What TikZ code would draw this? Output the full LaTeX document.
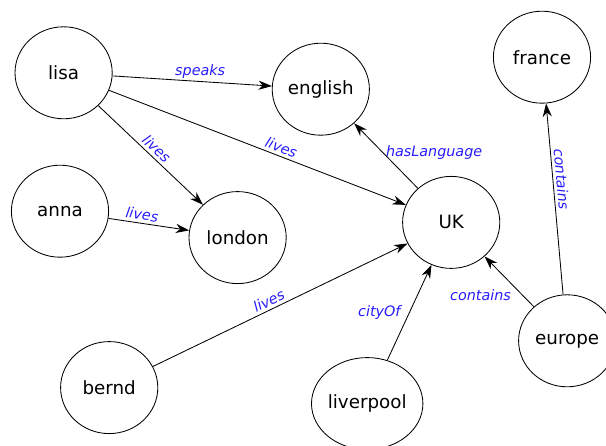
\documentclass[tikz,border=0pt]{standalone}
\usepackage{fontspec}
\setmainfont{DejaVu Sans}
\usepackage{xcolor}
\usepackage{tikz}
\usetikzlibrary{shapes.geometric, positioning, arrows.meta}

\definecolor{relblue}{RGB}{40,28,250}

\tikzset{
  entity/.style={ellipse, draw, line width=0.6pt, minimum width=2.43cm, minimum height=2.3cm,
    inner sep=0pt, font=\fontsize{13}{15}\selectfont},
  rel/.style={-{Stealth[length=9.5pt, width=6.5pt, inset=3pt]}, line width=0.6pt},
  lbl/.style={font=\fontsize{10.2}{12}\selectfont\itshape, text=relblue, inner sep=2pt}
}

\begin{document}
\begin{tikzpicture}[on grid]
			\useasboundingbox (0,0) rectangle (15.15,11.15);

			% Nodes
			\node (lisa) [entity] at (1.59,9.33) {lisa};
			\node (english) [entity, below right=0.41cm and 6.43cm of lisa] {english};
			\node (france) [entity, above right=0.8cm and 5.53cm of english] {france};
			\node (anna) [entity, below left=3.46cm and 0.09cm of lisa] {anna};
			\node (london) [entity, below right=0.66cm and 4.44cm of anna] {london};
			\node (UK) [entity, above right=0.38cm and 5.34cm of london] {UK};
			\node (bernd) [entity, below right=4.41cm and 1.23cm of anna] {bernd};
			\node (liverpool) [entity, below right=0.4cm and 6.45cm of bernd] {liverpool};
			\node (europe) [entity, below right=2.96cm and 2.9cm of UK] {europe};

			% Edges
			\draw [rel] (lisa) -- node [lbl, pos=0.55, above] {speaks} (english);
			\draw [rel] (lisa) -- node [lbl, midway, above, sloped] {lives} (london);
			\draw [rel] (lisa) -- node [lbl, pos=0.57, above, sloped] {lives} (UK);
			\draw [rel] (anna) -- node [lbl, pos=0.4, above, sloped] {lives} (london);
			\draw [rel] (bernd) -- node [lbl, pos=0.47, above, sloped] {lives} (UK);
			\draw [rel] (UK) -- node [lbl, pos=0.55, right] {hasLanguage} (english);
			\draw [rel] (liverpool) -- node [lbl, midway, left=4pt] {cityOf} (UK);
			\draw [rel] (europe) -- node [lbl, pos=0.4, below left] {contains} (UK);
			\draw [rel] (europe) -- node [lbl, pos=0.6, above, sloped] {contains} (france);

		\end{tikzpicture}
\end{document}
